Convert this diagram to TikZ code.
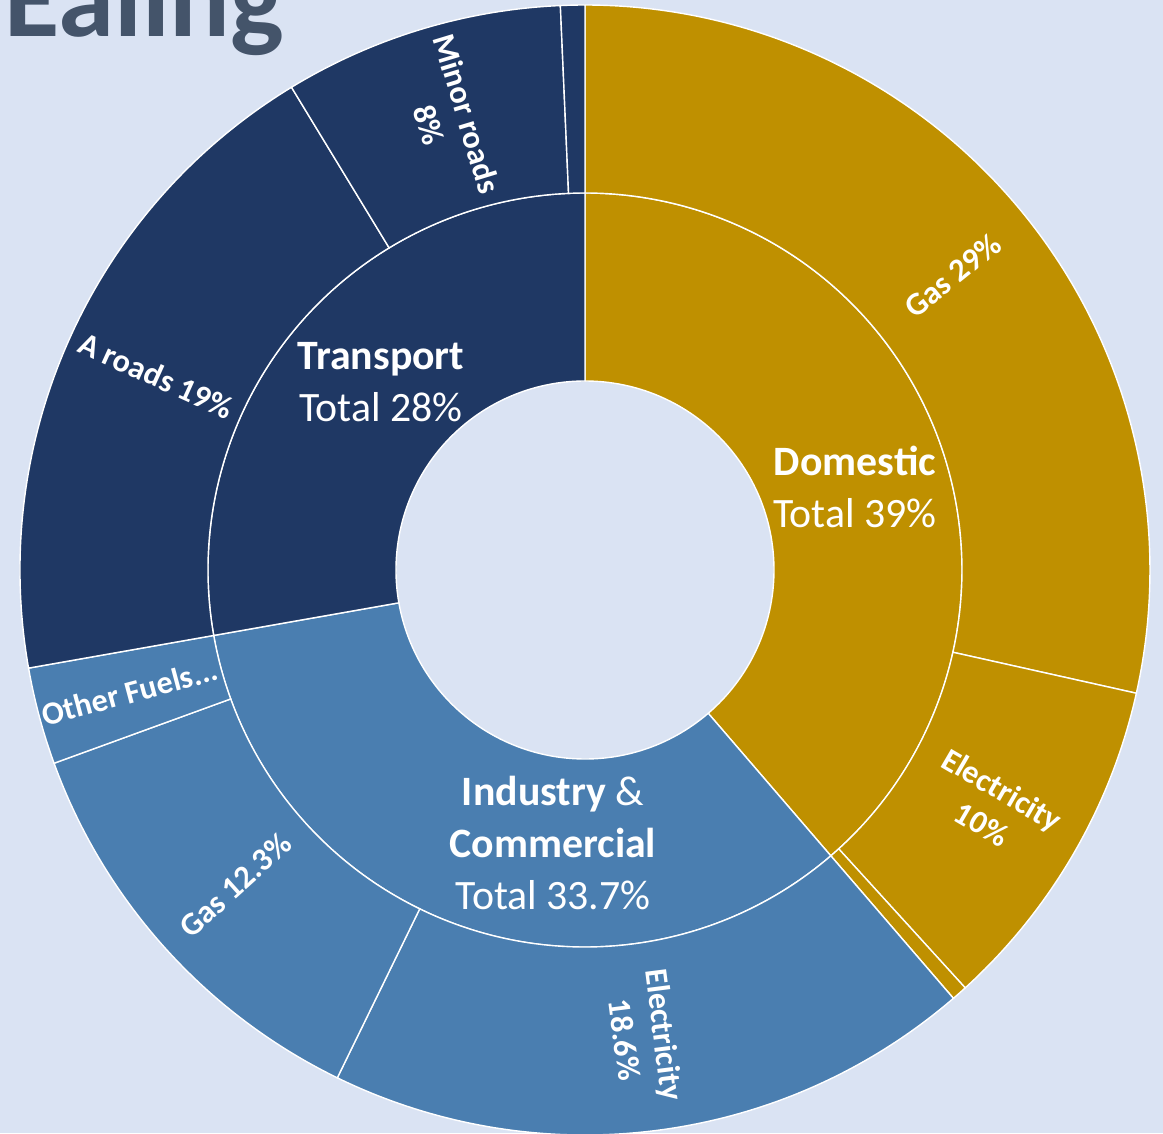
\documentclass[tikz,border=0pt]{standalone}
\usepackage{fontspec}
\setmainfont{Carlito}
\definecolor{domgold}{HTML}{BF9000}
\definecolor{trnavy}{HTML}{1F3864}
\definecolor{indblue}{HTML}{4A7EB0}
\definecolor{chartbg}{HTML}{DAE3F3}
\definecolor{titlegrey}{HTML}{44546A}
\begin{document}
\begin{tikzpicture}[x=0.02cm,y=0.02cm,
  ring/.style={draw=white,line width=0.8pt},
  totaltext/.style={text=white,align=center,inner sep=0pt,font=\fontsize{23.8}{29.6}\selectfont},
  parttext/.style={text=white,align=center,inner sep=0pt,font=\bfseries\fontsize{18.4}{22.8}\selectfont}]
\fill[chartbg] (-585,570) rectangle (578,-563);
\useasboundingbox (-585,570) rectangle (578,-563);
\node (title) [anchor=base west,inner sep=0pt,text=titlegrey,font=\bfseries\fontsize{64.5}{72}\selectfont] at (-581,533) {Ealing};
% inner ring
\foreach \a/\b/\c in {90/-49.3/domgold,-49.3/-170/indblue,-170/-270/trnavy}
  \filldraw[ring,fill=\c] (\a:189) arc[start angle=\a,end angle=\b,radius=189]
    -- (\b:377) arc[start angle=\b,end angle=\a,radius=377] -- cycle;
% outer ring
\foreach \a/\b/\c in {90/-12.6/domgold,-12.6/-47.7/domgold,-47.7/-49.3/domgold,
    -49.3/-116/indblue,-116/-160/indblue,-160/-170/indblue,
    -170/-238.7/trnavy,-238.7/-267.5/trnavy,-267.5/-270/trnavy}
  \filldraw[ring,fill=\c] (\a:377) arc[start angle=\a,end angle=\b,radius=377]
    -- (\b:565) arc[start angle=\b,end angle=\a,radius=565] -- cycle;
\node (domestic) [totaltext] at (270,83) {\textbf{Domestic}\\Total 39\%};
\node (industry) [totaltext] at (-32,-273) {\textbf{Industry} \&\\\textbf{Commercial}\\Total 33.7\%};
\node (transport) [totaltext] at (-204,188) {\textbf{Transport}\\Total 28\%};
\node (domgas) [parttext,rotate=38.7] at (38.7:471) {Gas 29\%};
\node (domelec) [parttext,rotate=-30.2] at (-30.2:471) {Electricity\\10\%};
\node (indelec) [parttext,rotate=-82.7] at (-82.7:471) {Electricity\\18.6\%};
\node (indgas) [parttext,rotate=42] at (-138:471) {Gas 12.3\%};
\node (indother) [parttext,rotate=15] at (-165:471) {Other Fuels...};
\node (aroads) [parttext,rotate=-24.4] at (155.6:471) {A roads 19\%};
\node (minorroads) [parttext,rotate=-73.1] at (106.9:471) {Minor roads\\8\%};
\end{tikzpicture}
\end{document}
